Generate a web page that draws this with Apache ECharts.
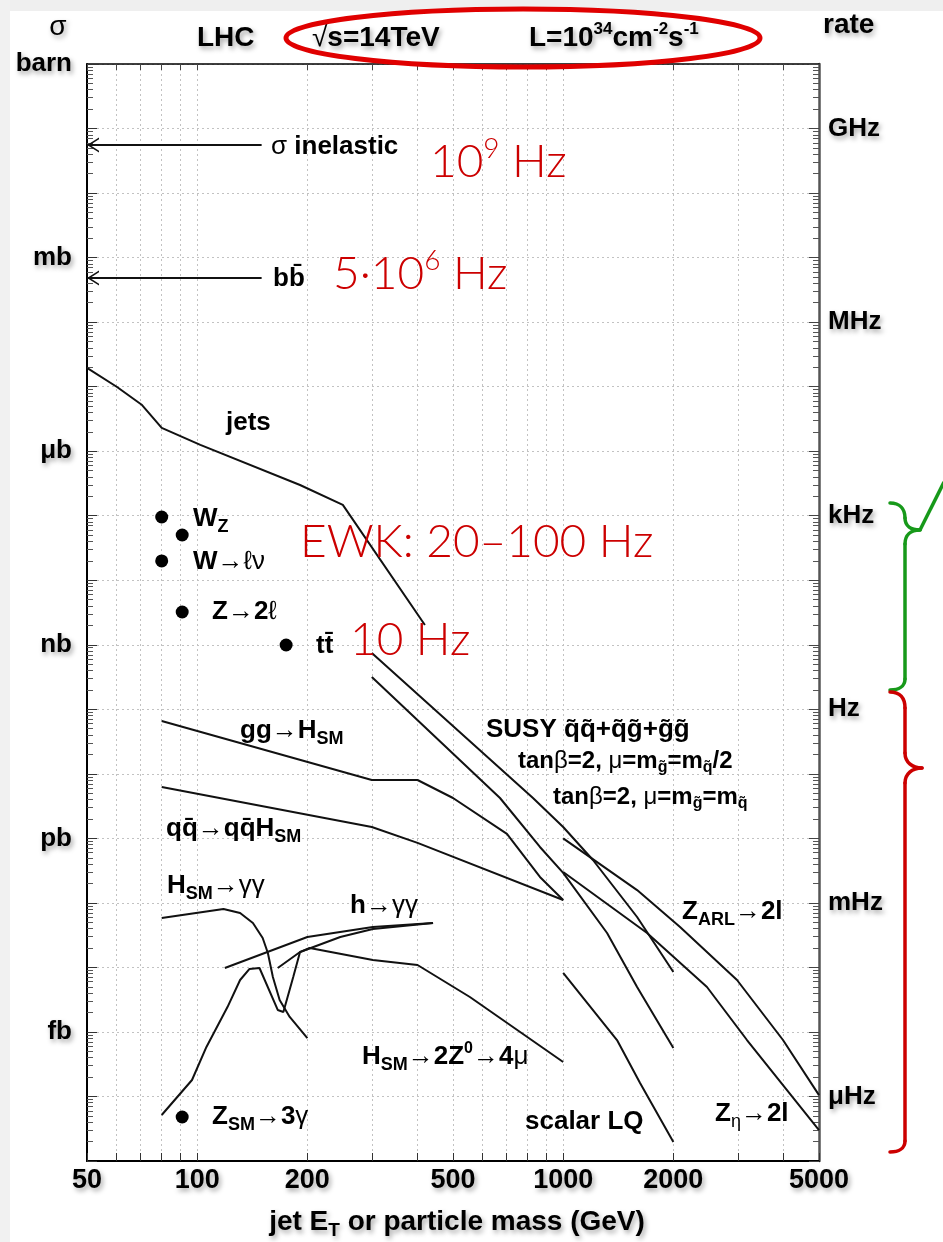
<!DOCTYPE html>
<html>
<head>
<meta charset="utf-8">
<title>LHC cross sections and rates</title>
<script src="https://cdn.jsdelivr.net/npm/echarts@6.0.0/dist/echarts.min.js"></script>
<style>
html,body{margin:0;padding:0;background:#ffffff;}
#chart{width:943px;height:1242px;}
</style>
</head>
<body>
<div id="chart"></div>
<script>
// ---------- axes: tick values and tick labels ----------
const xTickValues = [50, 60, 70, 80, 90, 100, 200, 300, 400, 500, 600, 700, 800, 900, 1000, 2000, 3000, 4000, 5000];
const xLabelValues = [50, 100, 200, 500, 1000, 2000, 5000];
const decadeValues = [1, 1e-1, 1e-2, 1e-3, 1e-4, 1e-5, 1e-6, 1e-7, 1e-8, 1e-9, 1e-10, 1e-11, 1e-12, 1e-13, 1e-14, 1e-15, 1e-16, 1e-17];
const barnLabelValues = [1, 1e-3, 1e-6, 1e-9, 1e-12, 1e-15];
const barnLabelNames = ['barn', 'mb', 'μb', 'nb', 'pb', 'fb'];
const rateLabelValues = [1e-1, 1e-4, 1e-7, 1e-10, 1e-13, 1e-16];
const rateLabelNames = ['GHz', 'MHz', 'kHz', 'Hz', 'mHz', 'μHz'];
const minorMultipliers = [2, 3, 4, 5, 6, 7, 8, 9];

// ---------- series values: [mass or jet ET (GeV), cross section (barn)] ----------
const sigmaInelastic = [[50, 0.0556], [150, 0.0556]];
const bbbar = [[50, 4.83e-4], [150, 4.83e-4]];
const jets = [[50, 1.95e-5], [60.4, 9.88e-6], [70.7, 5.19e-6], [80, 2.29e-6], [102, 1.25e-6], [191, 2.99e-7], [250, 1.47e-7], [419, 2.02e-9]];
const ewkPoints = [[80, 9.55e-8], [91, 5.02e-8], [80, 1.99e-8], [91, 3.22e-9], [175, 9.92e-10], [91, 4.81e-17]];
const ggH = [[80, 6.59e-11], [300, 8.02e-12], [400, 8.02e-12], [500, 4.22e-12], [702, 1.17e-12], [864, 2.52e-13], [1000, 1.11e-13]];
const qqH = [[80, 6.25e-12], [300, 1.50e-12], [400, 8.5e-13], [1000, 1.11e-13]];
const hsmGammaGamma = [[80, 5.83e-14], [118, 8.04e-14], [131, 6.98e-14], [142, 4.88e-14], [151, 2.86e-14], [156, 1.67e-14], [161, 7.1e-15], [168, 3.12e-15], [179, 1.71e-15], [200, 8.05e-16]];
const hGammaGammaA = [[119, 9.79e-15], [200, 2.96e-14], [302, 4.24e-14], [441, 4.88e-14]];
const hGammaGammaB = [[166, 9.79e-15], [191, 1.73e-14], [246, 2.96e-14], [302, 3.94e-14], [441, 4.88e-14]];
const h4mu = [[80, 5.16e-17], [96.8, 1.8e-16], [106, 5.85e-16], [121, 2.43e-15], [131, 6.38e-15], [139, 9.46e-15], [148, 9.79e-15], [166, 2.19e-15], [172, 2.04e-15], [183, 7.1e-15], [191, 1.73e-14], [203, 2.0e-14], [302, 1.3e-14], [400, 1.09e-14], [556, 3.48e-15], [1000, 3.42e-16]];
const susyHalf = [[300, 7.46e-10], [827, 4.22e-12], [1000, 1.5e-12], [1206, 4.62e-13], [1592, 6.04e-14], [2000, 8.49e-15]];
const susyEqual = [[300, 3.17e-10], [672, 4.22e-12], [864, 7.35e-13], [1000, 2.91e-13], [1318, 3.41e-14], [1592, 4.97e-15], [2000, 5.64e-16]];
const zARL = [[1000, 1.0e-12], [1592, 1.58e-13], [2086, 4.24e-14], [2985, 6.38e-15], [3986, 7.5e-16], [5000, 1.05e-16]];
const zEta = [[1000, 3.01e-13], [1695, 3.41e-14], [2471, 4.97e-15], [3178, 7.5e-16], [5000, 3.02e-17]];
const scalarLQ = [[1000, 8.2e-15], [1403, 7.5e-16], [1622, 1.62e-16], [2000, 1.97e-17]];

// ---------- styling ----------
const FONT = "'Liberation Sans', Arial, Helvetica, sans-serif";
const RED_FONT = "Lato, 'Noto Sans', 'DejaVu Sans', sans-serif";
const INK = '#000000';
const LINE = '#111111';
const RED = '#cc0000';
const GREEN = '#17991a';
const SHADOW = { textShadowColor: 'rgba(0,0,0,0.35)', textShadowBlur: 5, textShadowOffsetX: 2, textShadowOffsetY: 3 };
const ARROW = 'path://M12,0 L0,7 L12,14 L12,12.3 L3,7 L12,1.7 Z';

const minorValues = decadeValues.slice(1).flatMap(d => minorMultipliers.map(m => m * d));

function unitFormatter(values, names) {
  return function (v) {
    const e = Math.round(Math.log10(v));
    for (let i = 0; i < values.length; i++) {
      if (Math.round(Math.log10(values[i])) === e) return names[i];
    }
    return '';
  };
}

function richSet(size, shadow) {
  const sh = shadow ? SHADOW : {};
  const subSize = Math.round(size * 0.68);
  return {
    b: Object.assign({ fontFamily: FONT, fontWeight: 'bold', fontSize: size, fill: INK, color: INK }, sh),
    n: Object.assign({ fontFamily: FONT, fontWeight: 'normal', fontSize: size, fill: INK, color: INK }, sh),
    s: Object.assign({ fontFamily: FONT, fontWeight: 'bold', fontSize: subSize, fill: INK, color: INK, padding: [Math.round(size * 0.6), 0, 0, 0] }, sh),
    sn: Object.assign({ fontFamily: FONT, fontWeight: 'normal', fontSize: subSize, fill: INK, color: INK, padding: [Math.round(size * 0.6), 0, 0, 0] }, sh),
    p: Object.assign({ fontFamily: FONT, fontWeight: 'bold', fontSize: Math.round(size * 0.62), fill: INK, color: INK, padding: [0, 0, Math.round(size * 0.62), 0] }, sh)
  };
}

function txt(x, y, text, size, align, shadow) {
  return {
    type: 'text', x: x, y: y, z: 50, silent: true,
    style: {
      text: text, rich: richSet(size, shadow), align: align || 'left', verticalAlign: 'middle',
      fill: INK, fontFamily: FONT, fontWeight: 'bold', fontSize: size
    }
  };
}

function redTxt(x, y, text) {
  return {
    type: 'text', x: x, y: y, z: 60, silent: true,
    style: {
      text: text, align: 'left', verticalAlign: 'middle', fill: RED,
      rich: {
        r: { fontFamily: RED_FONT, fontWeight: 300, fontSize: 46, fill: RED, color: RED },
        rp: { fontFamily: RED_FONT, fontWeight: 300, fontSize: 28, fill: RED, color: RED, padding: [0, 0, 26, 0] }
      }
    }
  };
}

// brace pieces: cubic segments [x1,y1,cx1,cy1,cx2,cy2,x2,y2] (annotation shapes)
function braceElements(segments, color) {
  return segments.map(s => ({
    type: 'bezierCurve', z: 70, silent: true,
    shape: { x1: s[0], y1: s[1], cpx1: s[2], cpy1: s[3], cpx2: s[4], cpy2: s[5], x2: s[6], y2: s[7] },
    style: { stroke: color, lineWidth: 3.5, fill: 'none', lineCap: 'round' }
  }));
}
const greenBrace = braceElements([
  [890, 503, 900, 503, 905, 509, 905, 518],
  [905, 518, 905, 526, 911, 530, 920, 530],
  [920, 530, 911, 530, 905, 535, 905, 544],
  [905, 544, 905, 590, 905, 630, 905, 679],
  [905, 679, 905, 686, 899, 690, 890, 690]
], GREEN);
const redBrace = braceElements([
  [890, 692, 900, 692, 905, 698, 905, 708],
  [905, 708, 905, 720, 905, 740, 905, 753],
  [905, 753, 905, 762, 912, 768, 922, 768],
  [922, 768, 912, 768, 905, 774, 905, 783],
  [905, 783, 905, 900, 905, 1020, 905, 1141],
  [905, 1141, 905, 1148, 899, 1152, 890, 1152]
], RED);

const curveList = [jets, ggH, qqH, hsmGammaGamma, hGammaGammaA, hGammaGammaB, h4mu, susyHalf, susyEqual, zARL, zEta, scalarLQ];
const series = curveList.map(d => ({
  type: 'line', data: d, symbol: 'none', showSymbol: false, smooth: false,
  lineStyle: { color: LINE, width: 2, opacity: 1 }, silent: true, animation: false, z: 3
}));
[sigmaInelastic, bbbar].forEach(d => {
  series.push({
    type: 'line', showSymbol: true, symbol: 'none', silent: true, animation: false, z: 3,
    lineStyle: { color: LINE, width: 2, opacity: 1 }, itemStyle: { color: LINE, opacity: 1 },
    data: [
      { value: d[0], symbol: ARROW, symbolSize: [12, 15], symbolOffset: [6, 0] },
      { value: d[1], symbol: 'none' }
    ]
  });
});
series.push({
  type: 'scatter', data: ewkPoints, symbol: 'circle', symbolSize: 13,
  itemStyle: { color: '#000000', opacity: 1 }, silent: true, animation: false, z: 4
});

const yCommon = { type: 'log', logBase: 10, min: 1e-17, max: 1, gridIndex: 0 };

const option = {
  backgroundColor: '#ffffff',
  animation: false,
  textStyle: { fontFamily: FONT },
  grid: { left: 87, right: 124, top: 64, bottom: 81, containLabel: false },
  xAxis: [
    {
      type: 'log', logBase: 10, min: 50, max: 5000, position: 'bottom',
      axisLine: { show: true, lineStyle: { color: '#000', width: 2 } },
      axisTick: { show: true, inside: true, length: 8, customValues: xTickValues, lineStyle: { color: '#333', width: 1 } },
      axisLabel: Object.assign({
        show: true, customValues: xLabelValues, showMinLabel: true, showMaxLabel: true,
        formatter: v => String(Math.round(v)), color: '#000', fontFamily: FONT, fontWeight: 'bold', fontSize: 27, margin: 6
      }, SHADOW),
      splitLine: { show: true, lineStyle: { color: '#c2c2c2', type: [2, 3], width: 1 } }
    },
    {
      type: 'log', logBase: 10, min: 50, max: 5000, position: 'top',
      axisLine: { show: true, lineStyle: { color: '#000', width: 1.5 } },
      axisTick: { show: true, inside: true, length: 6, customValues: xTickValues, lineStyle: { color: '#444', width: 1 } },
      axisLabel: { show: false }, splitLine: { show: false }
    }
  ],
  yAxis: [
    Object.assign({}, yCommon, {
      position: 'left',
      axisLine: { show: true, lineStyle: { color: '#000', width: 2 } },
      axisTick: { show: true, inside: true, length: 10, customValues: decadeValues, lineStyle: { color: '#333', width: 1 } },
      axisLabel: Object.assign({
        show: true, customValues: barnLabelValues, showMinLabel: true, showMaxLabel: true,
        formatter: unitFormatter(barnLabelValues, barnLabelNames),
        color: '#000', fontFamily: FONT, fontWeight: 'bold', fontSize: 26, margin: 15
      }, SHADOW),
      splitLine: { show: true, lineStyle: { color: '#c2c2c2', type: [2, 3], width: 1 } }
    }),
    Object.assign({}, yCommon, {
      position: 'right',
      axisLine: { show: true, lineStyle: { color: '#555', width: 2.5 } },
      axisTick: { show: true, inside: true, length: 10, customValues: decadeValues, lineStyle: { color: '#444', width: 1 } },
      axisLabel: Object.assign({
        show: true, customValues: rateLabelValues, showMinLabel: true, showMaxLabel: true,
        formatter: unitFormatter(rateLabelValues, rateLabelNames),
        color: '#000', fontFamily: FONT, fontWeight: 'bold', fontSize: 26, margin: 9
      }, SHADOW),
      splitLine: { show: false }
    }),
    Object.assign({}, yCommon, {
      position: 'left',
      axisLine: { show: false },
      axisTick: { show: true, inside: true, length: 6, customValues: minorValues, lineStyle: { color: '#555', width: 1 } },
      axisLabel: { show: false }, splitLine: { show: false }
    }),
    Object.assign({}, yCommon, {
      position: 'right',
      axisLine: { show: false },
      axisTick: { show: true, inside: true, length: 6, customValues: minorValues, lineStyle: { color: '#555', width: 1 } },
      axisLabel: { show: false }, splitLine: { show: false }
    })
  ],
  graphic: [
    // page background bands
    { type: 'rect', z: -20, silent: true, shape: { x: 0, y: 0, width: 943, height: 11 }, style: { fill: '#efefef' } },
    { type: 'rect', z: -20, silent: true, shape: { x: 0, y: 0, width: 10, height: 1242 }, style: { fill: '#f1f1f1' } },
    // header
    txt(58, 27, '{n|σ}', 28, 'center', true),
    txt(197, 38, '{b|LHC}', 28, 'left', true),
    txt(312, 38, '{n|√}{b|s=14TeV}', 28, 'left', true),
    txt(529, 38, '{b|L=10}{p|34}{b|cm}{p|-2}{b|s}{p|-1}', 28, 'left', true),
    txt(823, 25, '{b|rate}', 28, 'left', true),
    { type: 'ellipse', z: 70, silent: true, shape: { cx: 523, cy: 38, rx: 237, ry: 29 }, style: { stroke: '#e00000', lineWidth: 5, fill: 'none' } },
    // x axis title
    txt(457, 1222, '{b|jet E}{s|T}{b| or particle mass (GeV)}', 28, 'center', true),
    // labels inside the frame
    txt(271, 147, '{n|σ }{b|inelastic}', 26, 'left'),
    txt(273, 279, '{b|bb\u0304}', 26, 'left'),
    txt(226, 423, '{b|jets}', 26, 'left'),
    txt(193, 519, '{b|W}{s|Z}', 26, 'left'),
    txt(193, 562, '{b|W}{n|→ℓν}', 26, 'left'),
    txt(212, 612, '{b|Z}{n|→}{b|2}{n|ℓ}', 26, 'left'),
    txt(316, 646, '{b|tt\u0304}', 26, 'left'),
    txt(240, 731, '{b|gg}{n|→}{b|H}{s|SM}', 26, 'left'),
    txt(166, 829, '{b|qq\u0304}{n|→}{b|qq\u0304H}{s|SM}', 26, 'left'),
    txt(167, 886, '{b|H}{s|SM}{n|→γγ}', 26, 'left'),
    txt(350, 906, '{b|h}{n|→γγ}', 26, 'left'),
    txt(486, 730, '{b|SUSY q\u0303q\u0303+q\u0303g\u0303+g\u0303g\u0303}', 26, 'left'),
    txt(518, 761, '{b|tan}{n|β}{b|=2, }{n|μ}{b|=m}{s|g\u0303}{b|=m}{s|q\u0303}{b|/2}', 24, 'left'),
    txt(553, 797, '{b|tan}{n|β}{b|=2, }{n|μ}{b|=m}{s|g\u0303}{b|=m}{s|q\u0303}', 24, 'left'),
    txt(682, 912, '{b|Z}{s|ARL}{n|→}{b|2l}', 26, 'left'),
    txt(362, 1057, '{b|H}{s|SM}{n|→}{b|2Z}{p|0}{n|→}{b|4}{n|μ}', 26, 'left'),
    txt(525, 1122, '{b|scalar LQ}', 26, 'left'),
    txt(715, 1114, '{b|Z}{sn|η}{n|→}{b|2l}', 26, 'left'),
    txt(212, 1117, '{b|Z}{s|SM}{n|→}{b|3}{n|γ}', 26, 'left'),
    // red rate annotations
    redTxt(430, 162, '{r|10}{rp|9}{r| Hz}'),
    redTxt(333, 274, '{r|5·10}{rp|6}{r| Hz}'),
    redTxt(300, 542, '{r|EWK: 20–100 Hz}'),
    redTxt(350, 640, '{r|10 Hz}'),
    // green pointer line
    { type: 'line', z: 70, silent: true, shape: { x1: 920, y1: 530, x2: 944, y2: 482 }, style: { stroke: GREEN, lineWidth: 3.5 } }
  ].concat(greenBrace, redBrace),
  series: series
};

const chart = echarts.init(document.getElementById('chart'), null, { renderer: 'canvas' });
chart.setOption(option);
</script>
</body>
</html>
